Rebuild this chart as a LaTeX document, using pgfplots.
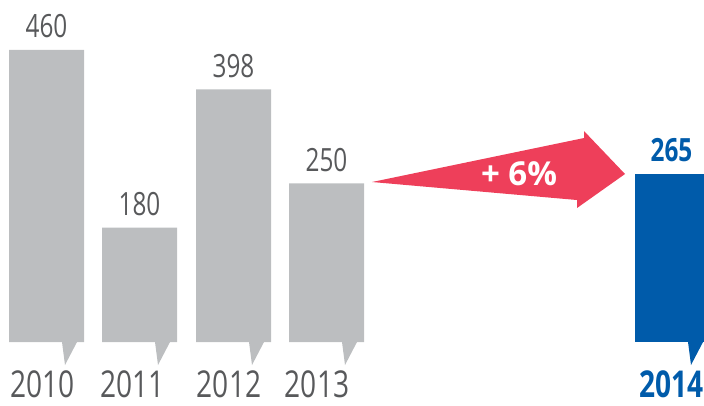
\documentclass[border=0pt]{standalone}
\usepackage{fontspec}
\setmainfont{Open Sans}[FakeStretch=0.76]
\newfontfamily\widefont{Open Sans}
\usepackage{pgfplots}
\pgfplotsset{compat=1.18}
\definecolor{barGray}{HTML}{BCBEC0}
\definecolor{txtGray}{HTML}{58595B}
\definecolor{barBlue}{HTML}{005BAA}
\definecolor{arrRed}{HTML}{EE3F5A}
\begin{document}
\begin{tikzpicture}
\begin{axis}[
  scale only axis,
  x=0.5pt, y=0.3175pt,
  xmin=0, xmax=704, ymin=-99.2, ymax=538.6,
  hide axis,
  clip=false,
  /pgf/number format/assume math mode=true,
]
% gray bars
\addplot[ybar, bar width=37.5pt, bar shift=0pt, fill=barGray, draw=none,
  nodes near coords, every node near coord/.style={anchor=base, yshift=6pt, inner sep=0pt, font=\fontsize{16}{18}\selectfont, text=txtGray}]
  coordinates {(46.5,460) (139.5,180) (233.5,398) (326.5,250)};
% blue bar
\addplot[ybar, bar width=34.5pt, bar shift=0pt, fill=barBlue, draw=none,
  nodes near coords, every node near coord/.style={anchor=base, yshift=6pt, xshift=1pt, inner sep=0pt, font=\fontsize{16}{18}\selectfont\bfseries, text=barBlue}]
  coordinates {(669.5,265)};
% tails
\addplot[fill=barGray, draw=none] coordinates {(62,0) (77,0) (65,-36.2)} -- cycle;
\addplot[fill=barGray, draw=none] coordinates {(155,0) (170,0) (158,-36.2)} -- cycle;
\addplot[fill=barGray, draw=none] coordinates {(249,0) (264,0) (252,-36.2)} -- cycle;
\addplot[fill=barGray, draw=none] coordinates {(342,0) (357,0) (345,-36.2)} -- cycle;
\addplot[fill=barBlue, draw=none] coordinates {(688,0) (703,0) (691,-36.2)} -- cycle;
% arrow
\addplot[fill=arrRed, draw=none] coordinates {(372,251.97) (584,321.26) (584,332.28) (625,264.57) (577,211.02) (577,223.62)} -- cycle;
\node[anchor=base, inner sep=0pt, text=white, font=\widefont\fontsize{16.5}{18}\selectfont\bfseries] at (axis cs:519,247.2) {+ 6\%};
% year labels
\node[anchor=base, inner sep=0pt, text=txtGray, font=\fontsize{18.5}{20}\selectfont] at (axis cs:42.5,-88) {2010};
\node[anchor=base, inner sep=0pt, text=txtGray, font=\fontsize{18.5}{20}\selectfont] at (axis cs:132.5,-88) {2011};
\node[anchor=base, inner sep=0pt, text=txtGray, font=\fontsize{18.5}{20}\selectfont] at (axis cs:229,-88) {2012};
\node[anchor=base, inner sep=0pt, text=txtGray, font=\fontsize{18.5}{20}\selectfont] at (axis cs:317,-88) {2013};
\node[anchor=base, inner sep=0pt, text=barBlue, font=\fontsize{18.5}{20}\selectfont\bfseries] at (axis cs:671.7,-88) {2014};
\end{axis}
\pgfresetboundingbox
\path (current axis.south west) rectangle (current axis.north east);
\end{tikzpicture}
\end{document}
